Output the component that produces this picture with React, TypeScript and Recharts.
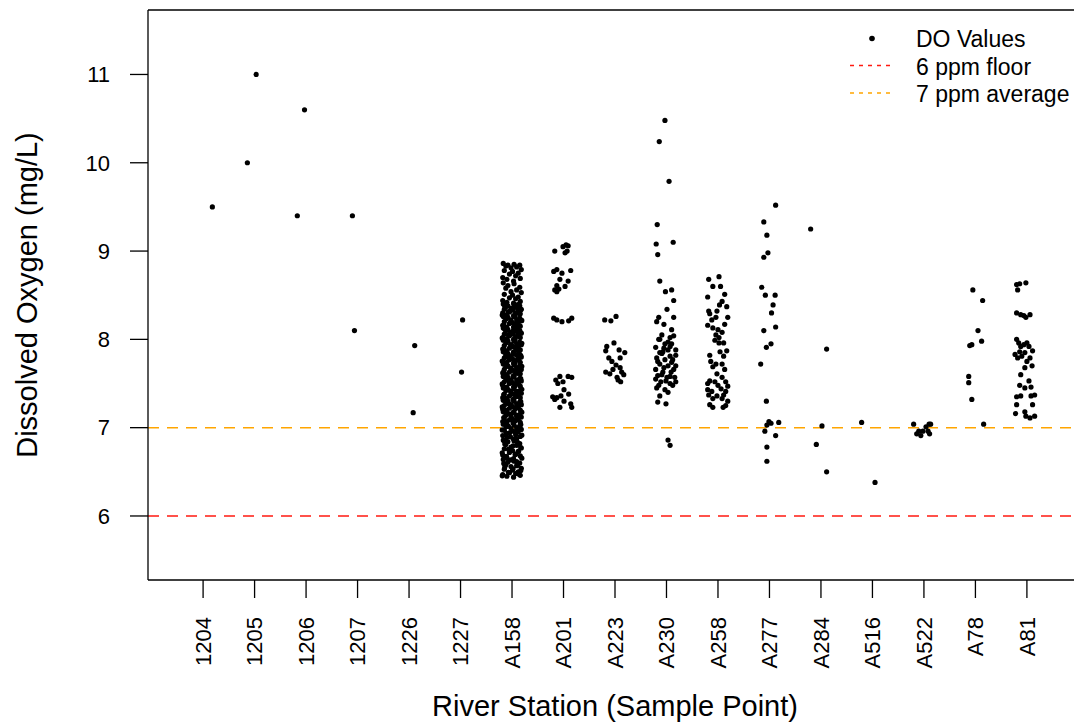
import { ScatterChart, Scatter, XAxis, YAxis, ReferenceLine } from 'recharts'

const FONT = '"Liberation Sans", Arial, Helvetica, sans-serif'

const STATIONS = ['1204', '1205', '1206', '1207', '1226', '1227', 'A158', 'A201', 'A223', 'A230', 'A258', 'A277', 'A284', 'A516', 'A522', 'A78', 'A81']
const Y_TICKS = [6, 7, 8, 9, 10, 11]
const FLOOR_PPM = 6
const AVERAGE_PPM = 7

// [jitter, DO value]
const S1204 = [[0.18, 9.5]]
const S1205 = [[0.03, 11.0], [-0.14, 10.0]]
const S1206 = [[-0.03, 10.6], [-0.17, 9.4]]
const S1207 = [[-0.1, 9.4], [-0.06, 8.1]]
const S1226 = [[0.11, 7.93], [0.08, 7.17]]
const S1227 = [[0.04, 8.22], [0.02, 7.63]]

// A158 is a solid column, values estimated; jitter taken in turn from the lists below
const A158_VALUES = [
  8.86, 8.85, 8.84, 8.84, 8.83, 8.82, 8.81, 8.79, 8.78, 8.77, 8.75, 8.74, 8.72, 8.7, 8.69, 8.68, 8.66, 8.64,
  8.63, 8.61, 8.59, 8.58, 8.56, 8.54, 8.53, 8.51, 8.5, 8.48, 8.47, 8.46, 8.44, 8.43, 8.42, 8.41,
  8.4, 8.39, 8.38, 8.38, 8.37, 8.36, 8.35, 8.34, 8.34, 8.33, 8.32, 8.31, 8.3, 8.3, 8.29, 8.28, 8.27, 8.26,
  8.26, 8.25, 8.24, 8.23, 8.22, 8.22, 8.21, 8.2, 8.19, 8.18, 8.18, 8.17, 8.16, 8.15, 8.14, 8.14, 8.13, 8.12,
  8.11, 8.1, 8.1, 8.09, 8.08, 8.07, 8.06, 8.06, 8.05, 8.04, 8.03, 8.02, 8.02, 8.01, 8.0, 7.99, 7.98, 7.98,
  7.97, 7.96, 7.95, 7.94, 7.94, 7.93, 7.92, 7.91, 7.9, 7.9, 7.89, 7.88, 7.87, 7.86, 7.86, 7.85, 7.84, 7.83,
  7.82, 7.82, 7.81, 7.8, 7.79, 7.78, 7.78, 7.77, 7.76, 7.75, 7.74, 7.74, 7.73, 7.72, 7.71, 7.7, 7.7, 7.69,
  7.68, 7.67, 7.66, 7.66, 7.65, 7.64, 7.63, 7.62, 7.62, 7.61, 7.6, 7.59, 7.58, 7.58, 7.57, 7.56, 7.55, 7.54,
  7.54, 7.53, 7.52, 7.51, 7.5, 7.5, 7.49, 7.48, 7.47, 7.46, 7.46, 7.45, 7.44, 7.43, 7.42, 7.42, 7.41, 7.4,
  7.39, 7.38, 7.38, 7.37, 7.36, 7.35, 7.34, 7.34, 7.33, 7.32, 7.31, 7.3, 7.3, 7.29, 7.28, 7.27, 7.26, 7.26,
  7.25, 7.24, 7.23, 7.22, 7.22, 7.21, 7.2, 7.19, 7.18, 7.18, 7.17, 7.16, 7.15, 7.14, 7.14, 7.13, 7.12, 7.11,
  7.1, 7.1, 7.09, 7.08, 7.07, 7.06, 7.06, 7.05, 7.04, 7.03, 7.02, 7.02, 7.01, 7.0,
  6.99, 6.98, 6.97, 6.96, 6.95, 6.94, 6.92, 6.91, 6.9, 6.89, 6.87, 6.86, 6.85, 6.84, 6.82, 6.81, 6.8, 6.78,
  6.77, 6.76, 6.74, 6.73, 6.72, 6.7, 6.69, 6.68, 6.66, 6.65, 6.64, 6.62, 6.61, 6.6, 6.58, 6.57, 6.56, 6.54,
  6.53, 6.52, 6.5, 6.49, 6.48, 6.47, 6.46, 6.45, 6.44,
]
const A158_EXTRA = [
  8.395, 8.375, 8.355, 8.335, 8.315, 8.295, 8.275, 8.255, 8.235, 8.215, 8.195, 8.175, 8.155, 8.135, 8.115,
  8.095, 8.075, 8.055, 8.035, 8.015, 7.995, 7.975, 7.955, 7.935, 7.915, 7.895, 7.875, 7.855, 7.835, 7.815,
  7.795, 7.775, 7.755, 7.735, 7.715, 7.695, 7.675, 7.655, 7.635, 7.615, 7.595, 7.575, 7.555, 7.535, 7.515,
  7.495, 7.475, 7.455, 7.435, 7.415, 7.395, 7.375, 7.355, 7.335, 7.315, 7.295, 7.275, 7.255, 7.235, 7.215,
  7.195, 7.175, 7.155, 7.135, 7.115, 7.095, 7.075, 7.055, 7.035, 7.015, 6.995, 6.975, 6.955, 6.935, 6.915,
  6.895, 6.875, 6.855, 6.835, 6.815, 6.795, 6.775, 6.755, 6.735, 6.715, 6.695, 6.675, 6.655, 6.635, 6.615,
  6.595, 6.575, 6.555, 6.535, 6.515, 6.495, 6.475, 6.455,
]
const JITTER_A = [-0.17, 0.04, -0.08, 0.15, -0.12, 0.09, -0.02, 0.18, -0.15, 0.01, 0.12, -0.05, 0.07, -0.18, 0.16, -0.1, 0.03]
const JITTER_B = [0.11, -0.14, 0.02, 0.17, -0.07, 0.13, -0.19, 0.06, -0.11, 0.19, -0.03, 0.09, -0.16]

const SA158 = [
  ...A158_VALUES.map((v, k) => [JITTER_A[k % JITTER_A.length], v]),
  ...A158_EXTRA.map((v, k) => [JITTER_B[k % JITTER_B.length], v]),
]

const SA201 = [
  [-0.17, 9.0], [-0.01, 9.05], [0.05, 9.07], [0.09, 9.06], [0.03, 8.98], [0.07, 9.0],
  [-0.19, 8.77], [-0.13, 8.79], [-0.03, 8.75], [0.14, 8.78], [-0.07, 8.68], [-0.13, 8.61], [0.09, 8.66],
  [0.03, 8.6], [-0.17, 8.56], [-0.13, 8.54], [-0.09, 8.57],
  [-0.19, 8.24], [-0.13, 8.22], [-0.03, 8.2], [0.1, 8.21], [0.16, 8.24],
  [-0.15, 7.54], [-0.07, 7.58], [0.09, 7.58], [0.16, 7.57], [-0.01, 7.52], [-0.11, 7.5], [0.01, 7.43],
  [-0.21, 7.35], [-0.13, 7.34], [-0.05, 7.36], [-0.17, 7.32], [0.01, 7.3], [0.1, 7.38], [0.14, 7.27],
  [-0.07, 7.23], [0.16, 7.23],
]
const SA223 = [
  [-0.2, 8.22], [-0.08, 8.21], [0.02, 8.26], [-0.16, 7.92], [-0.02, 7.96], [0.08, 7.88], [-0.12, 7.79],
  [0.1, 7.79], [0.02, 7.71], [-0.18, 7.63], [-0.04, 7.66], [0.13, 7.63], [0.06, 7.54], [-0.1, 7.61],
  [0.1, 7.68], [-0.06, 7.75], [0.04, 7.57], [0.11, 7.52], [0.19, 7.85], [-0.18, 7.87], [0.17, 7.6],
]
const SA230 = [
  [-0.03, 10.48], [-0.14, 10.24], [0.05, 9.79], [-0.18, 9.3], [-0.2, 9.08], [0.13, 9.1], [-0.17, 8.96],
  [-0.13, 8.66], [-0.02, 8.54], [0.1, 8.56], [0.14, 8.44], [0.01, 8.34], [-0.15, 8.25], [0.14, 8.25],
  [-0.05, 8.17], [0.1, 8.11], [-0.19, 8.2], [-0.09, 8.05], [0.14, 8.04], [-0.15, 8.0], [-0.03, 7.95],
  [0.1, 7.95], [-0.21, 7.91], [0.03, 7.88], [0.18, 7.88], [-0.09, 7.84], [0.07, 7.81], [-0.19, 7.79],
  [-0.03, 7.77], [0.12, 7.77], [-0.13, 7.72], [0.03, 7.7], [0.18, 7.7], [-0.21, 7.66], [-0.07, 7.63],
  [0.09, 7.63], [-0.17, 7.59], [0.01, 7.57], [0.16, 7.57], [-0.11, 7.52], [0.07, 7.5], [-0.19, 7.45],
  [-0.03, 7.43], [0.12, 7.48], [-0.13, 7.36], [0.03, 7.4], [-0.17, 7.29], [-0.01, 7.27], [0.03, 6.86],
  [0.07, 6.8], [-0.13, 7.85], [-0.05, 7.9], [0.07, 7.92], [0.18, 7.82], [-0.17, 7.75], [0.1, 7.74],
  [-0.05, 7.68], [0.14, 7.66], [-0.09, 7.6], [0.07, 7.58], [-0.21, 7.55], [-0.01, 7.53], [-0.15, 7.48],
  [0.18, 7.52], [-0.07, 7.86], [0.03, 7.97], [-0.13, 8.0], [0.07, 8.02],
]
const SA258 = [
  [-0.18, 8.68], [0.02, 8.71], [-0.1, 8.6], [0.05, 8.6], [0.13, 8.51], [0.08, 8.43], [0.03, 8.39],
  [-0.02, 8.32], [0.17, 8.37], [-0.18, 8.32], [-0.16, 8.29], [0.19, 8.25], [-0.04, 8.25], [-0.2, 8.16],
  [-0.1, 8.13], [0.13, 8.17], [0.0, 8.11], [0.08, 8.08], [-0.04, 8.05], [0.02, 8.02], [-0.06, 7.99],
  [0.02, 7.96], [0.04, 7.86], [0.17, 7.87], [0.11, 7.81], [-0.14, 7.75], [-0.04, 7.72], [0.08, 7.72],
  [-0.1, 7.69], [0.13, 7.66], [-0.02, 7.61], [0.08, 7.57], [-0.16, 7.53], [-0.06, 7.52], [0.15, 7.52],
  [-0.2, 7.5], [0.0, 7.48], [-0.12, 7.41], [0.06, 7.44], [0.15, 7.41], [-0.18, 7.37], [-0.02, 7.36],
  [0.11, 7.37], [-0.1, 7.33], [0.08, 7.33], [-0.1, 7.23], [0.1, 7.23], [0.19, 7.47], [-0.2, 7.43],
  [0.19, 7.3], [-0.16, 7.26], [0.15, 7.25], [-0.2, 8.48], [-0.12, 8.22], [0.11, 7.96], [-0.16, 7.82],
]
const SA277 = [
  [0.12, 9.52], [-0.11, 9.33], [-0.05, 9.18], [-0.03, 8.98], [-0.11, 8.93], [-0.15, 8.59], [-0.08, 8.5],
  [0.11, 8.5], [0.07, 8.39], [0.04, 8.3], [0.12, 8.14], [-0.11, 8.1], [-0.06, 7.91], [0.03, 7.95],
  [-0.17, 7.72], [-0.06, 7.3], [-0.01, 7.07], [0.03, 7.05], [-0.05, 7.03], [0.18, 7.06], [-0.09, 6.96],
  [0.12, 6.91], [-0.05, 6.78], [-0.05, 6.62],
]
const SA284 = [[-0.2, 9.25], [0.11, 7.89], [0.02, 7.02], [-0.09, 6.81], [0.11, 6.5]]
const SA516 = [[-0.21, 7.06], [0.05, 6.38]]
const SA522 = [
  [-0.2, 7.04], [-0.1, 6.96], [-0.06, 6.91], [0.04, 7.01], [0.1, 7.04], [0.13, 7.04], [0.11, 6.93],
  [-0.02, 6.96], [0.08, 6.96], [-0.14, 6.93],
]
const SA78 = [
  [-0.05, 8.56], [0.14, 8.44], [0.05, 8.1], [0.12, 7.98], [-0.11, 7.93], [-0.07, 7.94], [-0.13, 7.58],
  [-0.13, 7.51], [-0.07, 7.32], [0.16, 7.04],
]
const SA81 = [
  [-0.2, 8.62], [-0.14, 8.63], [-0.02, 8.64], [-0.18, 8.56], [-0.2, 8.3], [-0.12, 8.28], [-0.06, 8.27],
  [0.06, 8.28], [-0.02, 8.25], [-0.2, 8.0], [-0.16, 7.96], [-0.12, 7.92], [-0.06, 7.94], [0.0, 7.96],
  [-0.14, 7.86], [-0.04, 7.85], [0.04, 7.92], [0.11, 7.87], [0.06, 7.79], [-0.23, 7.83], [-0.18, 7.79],
  [0.0, 7.75], [-0.1, 7.81], [0.1, 7.7], [-0.04, 7.68], [-0.12, 7.6], [0.04, 7.53], [-0.14, 7.48],
  [0.08, 7.46], [-0.04, 7.45], [-0.2, 7.35], [-0.12, 7.36], [0.08, 7.36], [0.15, 7.37], [-0.2, 7.26],
  [0.11, 7.26], [-0.22, 7.16], [-0.02, 7.13], [0.06, 7.11], [0.15, 7.13], [-0.04, 7.18],
]

const STATION_POINTS = [S1204, S1205, S1206, S1207, S1226, S1227, SA158, SA201, SA223, SA230, SA258, SA277, SA284, SA516, SA522, SA78, SA81]

const points = STATION_POINTS.flatMap((pts, i) => pts.map(([dx, v]) => ({ x: i + dx, y: v })))

const X_DOMAIN = [-1.07, 17.07]
const Y_DOMAIN = [5.275, 11.73]
const RED = '#ff1a10'
const ORANGE = '#ffa500'

function StationTick({ x, y, payload }: any) {
  return (
    <text
      x={x}
      y={y}
      transform={`rotate(-90, ${x}, ${y})`}
      textAnchor="end"
      dy="0.35em"
      fill="#000"
      fontSize={22}
      fontFamily={FONT}
    >
      {STATIONS[payload.value]}
    </text>
  )
}

function Dot(props: any) {
  return <circle cx={props.cx} cy={props.cy} r={2.6} fill="#000" />
}

function YTitle() {
  return (
    <text x={37} y={295} transform="rotate(-90, 37, 295)" textAnchor="middle" fontSize={29} fontFamily={FONT} fill="#000">
      Dissolved Oxygen (mg/L)
    </text>
  )
}

function XTitle() {
  return (
    <text x={615} y={716} textAnchor="middle" fontSize={29} fontFamily={FONT} fill="#000">
      River Station (Sample Point)
    </text>
  )
}

function LegendBox() {
  return (
    <svg width={1074} height={723} style={{ position: 'absolute', left: 0, top: 0, pointerEvents: 'none' }}>
      <g fontFamily={FONT} fontSize={23} fill="#000">
        <circle cx={872} cy={38.5} r={2.8} fill="#000" />
        <text x={916} y={46.5}>DO Values</text>
        <line x1={850} x2={894} y1={65.5} y2={65.5} stroke={RED} strokeWidth={1.5} strokeDasharray="4 5" />
        <text x={916} y={74.5}>6 ppm floor</text>
        <line x1={850} x2={894} y1={93} y2={93} stroke={ORANGE} strokeWidth={1.5} strokeDasharray="4 5" />
        <text x={916} y={101.5}>7 ppm average</text>
      </g>
    </svg>
  )
}

export default function App() {
  return (
    <div style={{ position: 'absolute', left: 0, top: 0, width: 1074, height: 723, overflow: 'hidden', background: '#fff' }}>
      <ScatterChart width={1090} height={723} margin={{ top: 10, right: 8, bottom: 0, left: 0 }}>
        <XAxis
          type="number"
          dataKey="x"
          domain={X_DOMAIN}
          allowDataOverflow
          ticks={STATIONS.map((_, i) => i)}
          interval={0}
          height={143}
          tickSize={18}
          tickMargin={19}
          tick={<StationTick />}
          tickLine={{ stroke: '#000', strokeWidth: 1.3 }}
          axisLine={{ stroke: '#000', strokeWidth: 1.3 }}
          label={<XTitle />}
        />
        <YAxis
          type="number"
          dataKey="y"
          domain={Y_DOMAIN}
          allowDataOverflow
          ticks={Y_TICKS}
          interval={0}
          width={148}
          tickSize={18}
          tickMargin={20}
          tick={{ fill: '#000', fontSize: 22, fontFamily: FONT }}
          tickLine={{ stroke: '#000', strokeWidth: 1.3 }}
          axisLine={{ stroke: '#000', strokeWidth: 1.3 }}
          label={<YTitle />}
        />
        <Scatter data={points} shape={<Dot />} isAnimationActive={false} />
        <ReferenceLine y={Y_DOMAIN[1]} stroke="#000" strokeWidth={1.3} />
        <ReferenceLine y={FLOOR_PPM} stroke={RED} strokeWidth={1.6} strokeDasharray="11 8" />
        <ReferenceLine y={AVERAGE_PPM} stroke={ORANGE} strokeWidth={1.6} strokeDasharray="11 8" />
      </ScatterChart>
      <LegendBox />
    </div>
  )
}
